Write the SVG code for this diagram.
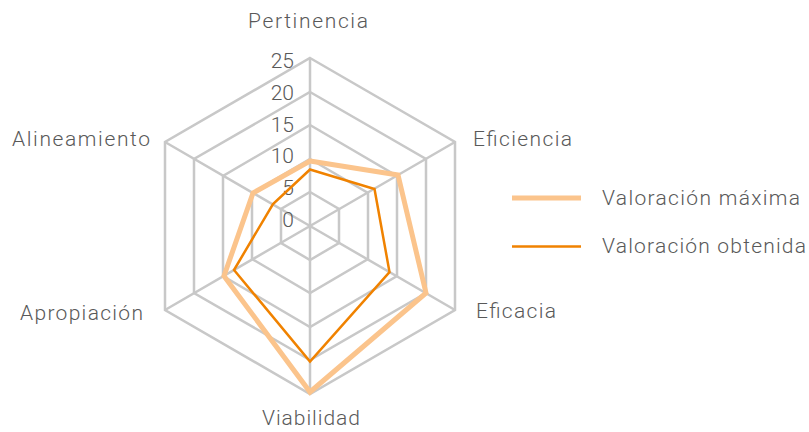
<svg xmlns="http://www.w3.org/2000/svg" width="809" height="432" viewBox="0 0 809 432">
<style>
.grid{fill:none;stroke:#c8c8c8;stroke-width:2.5;stroke-linejoin:miter}
.max{fill:none;stroke:#fbc48c;stroke-width:5;stroke-linejoin:miter}
.obt{fill:none;stroke:#f08200;stroke-width:2.5;stroke-linejoin:miter}
text{font-family:Roboto,"Liberation Sans",sans-serif;font-weight:300;fill:#595959;font-size:21px}
.tick{font-size:21px;text-anchor:end}
</style>
<rect width="809" height="432" fill="#ffffff"/>
<g id="grid">
<polygon class="grid" points="310,58 455,142 455,310 310,394 165,310 165,142"/>
<polygon class="grid" points="310,92 426,159 426,293 310,360 194,293 194,159"/>
<polygon class="grid" points="310,125 397,176 397,276 310,327 223,276 223,176"/>
<polygon class="grid" points="310,159 368,193 368,259 310,293 252,259 252,193"/>
<polygon class="grid" points="310,192 339,209 339,243 310,260 281,243 281,209"/>
<path class="grid" d="M310,226V58M310,226L455,142M310,226L455,310M310,226V394M310,226L165,310M310,226L165,142"/>
</g>
<g id="ticks">
<text class="tick" x="294" y="68">25</text>
<text class="tick" x="294" y="100">20</text>
<text class="tick" x="294" y="132">15</text>
<text class="tick" x="294" y="163">10</text>
<text class="tick" x="294" y="195">5</text>
<text class="tick" x="294" y="227">0</text>
</g>
<g id="connectors">
<polygon id="serie-maxima" class="max" points="310,161 398,175 426,293 310,392 224,276 253,193"/>
<polygon id="serie-obtenida" class="obt" points="310,169.5 374.5,189 389.5,272 310,361.5 234,270 273,204"/>
</g>
<g id="axis-labels">
<text id="pertinencia" x="248" y="28" textLength="120" lengthAdjust="spacing">Pertinencia</text>
<text id="eficiencia" x="473" y="146" textLength="99" lengthAdjust="spacing">Eficiencia</text>
<text id="eficacia" x="476" y="318" textLength="80" lengthAdjust="spacing">Eficacia</text>
<text id="viabilidad" x="262" y="425" textLength="98" lengthAdjust="spacing">Viabilidad</text>
<text id="apropiacion" x="20" y="320" textLength="123" lengthAdjust="spacing">Apropiación</text>
<text id="alineamiento" x="12" y="146" textLength="138" lengthAdjust="spacing">Alineamiento</text>
</g>
<g id="legend">
<line x1="512" y1="198" x2="581" y2="198" stroke="#fbc48c" stroke-width="5"/>
<text x="602" y="205" textLength="198" lengthAdjust="spacing">Valoración máxima</text>
<line x1="512" y1="246.5" x2="581" y2="246.5" stroke="#f08200" stroke-width="2.5"/>
<text x="602" y="253" textLength="204" lengthAdjust="spacing">Valoración obtenida</text>
</g>
</svg>
